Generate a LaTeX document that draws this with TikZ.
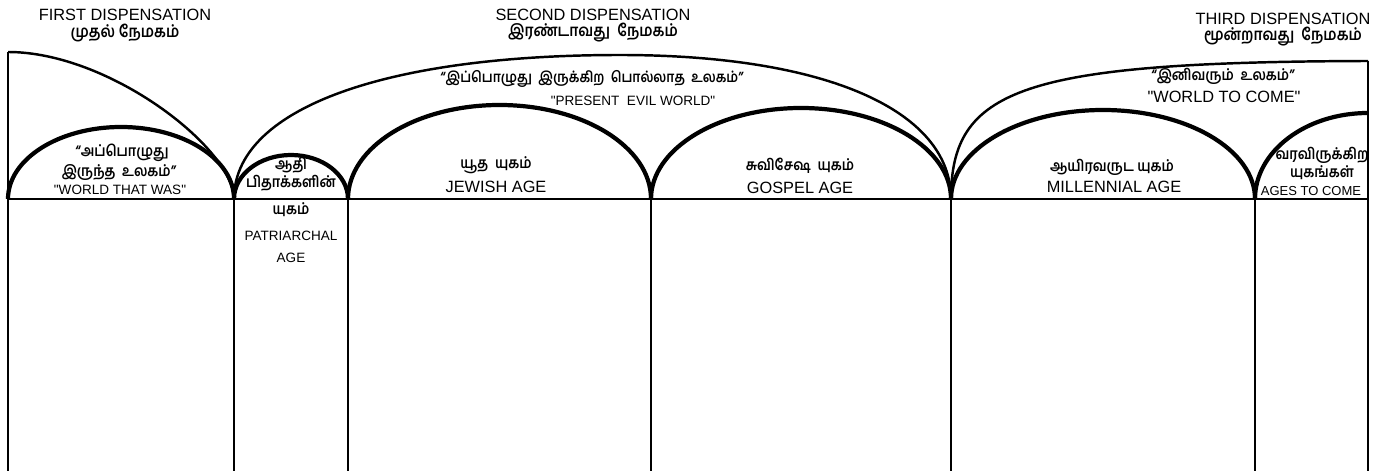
\documentclass[tikz,border=0pt]{standalone}
\usepackage{fontspec}
\setmainfont{Liberation Sans}[Ligatures=TeXOff]
\newfontfamily\tamil[Script=Tamil, FakeStretch=0.88]{Hind Madurai}
\usetikzlibrary{positioning}

\begin{document}
\begin{tikzpicture}[
    x=0.02cm, y=0.02cm,
    thinarc/.style={line width=1.4pt},
    thickarc/.style={line width=2.4pt},
    wall/.style={line width=1.3pt},
    entext/.style={font=\fontsize{9.3}{10}\selectfont, inner sep=0pt},
    ensmall/.style={font=\fontsize{7.7}{8.5}\selectfont, inner sep=0pt},
    tatext/.style={font=\fontsize{8.7}{10}\selectfont\tamil\bfseries, inner sep=0pt},
    tatitle/.style={font=\fontsize{9.4}{10}\selectfont\tamil\bfseries, inner sep=0pt}
  ]
  \useasboundingbox (0,-277) rectangle (1385,199);

  % division points on the ground line
  \coordinate (p0) at (8,0);
  \coordinate (p1) at (234,0);
  \coordinate (p2) at (348,0);
  \coordinate (p3) at (651,0);
  \coordinate (p4) at (951,0);
  \coordinate (p5) at (1255,0);
  \coordinate (p6) at (1368,0);
  \coordinate (top0) at (8,147);
  \coordinate (top2) at (620,144);
  \coordinate (top3) at (1368,138);

  % ground line and walls
  \draw[line width=1.6pt] (p0) -- (p6);
  \draw[wall] (top0) -- (8,-272);
  \draw[wall] (top3) -- (1368,-272);
  \foreach \p in {p1,p2,p3,p4,p5}
    \draw[wall] (\p) -- ++(0,-272);

  % dispensations
  \draw[thinarc] (top0) .. controls (110,147) and (234,50) .. (p1);
  \draw[thinarc] (p1) .. controls (234,89) and (381,144) .. (top2)
                      .. controls (825,144) and (951,89) .. (p4);
  \draw[thinarc] (p4) .. controls (951,110) and (1020,137) .. (top3);

  % ages
  \draw[thickarc] (p0) arc[start angle=180, end angle=0, x radius=113, y radius=72];
  \draw[thickarc] (p1) arc[start angle=180, end angle=0, x radius=57, y radius=44];
  \draw[thickarc] (p2) arc[start angle=180, end angle=0, x radius=151.5, y radius=94];
  \draw[thickarc] (p3) arc[start angle=180, end angle=0, x radius=150, y radius=91];
  \draw[thickarc] (p4) arc[start angle=180, end angle=0, x radius=152, y radius=89];
  \draw[thickarc] (p5) arc[start angle=180, end angle=90, x radius=113, y radius=86];

  % titles
  \node[entext] (first) at (125,184) {FIRST DISPENSATION};
  \node[tatitle] (firstta) at (125,166) {முதல் நேமகம்};
  \node[entext] (second) at (593,184) {SECOND DISPENSATION};
  \node[tatitle] (secondta) at (593,166) {இரண்டாவது\ \ நேமகம்};
  \node[entext] (third) at (1283,180) {THIRD DISPENSATION};
  \node[tatitle] (thirdta) at (1283,162) {மூன்றாவது\ \ நேமகம்};

  % worlds
  \node[tatext] (wasta1) at (122,46) {“அப்பொழுது};
  \node[tatext] (wasta2) at (119,26) {இருந்த\ \ உலகம்”};
  \node[ensmall] (was) at (120,9) {"WORLD THAT WAS"};
  \node[tatext, font=\fontsize{8.4}{10}\selectfont\tamil\bfseries] (evilta) at (592,120)
    {“இப்பொழுது\ \ இருக்கிற\ \ பொல்லாத\ \ உலகம்”};
  \node[ensmall] (evil) at (633,98) {"PRESENT\ \ EVIL WORLD"};
  \node[tatext] (cometa) at (1223,123) {“இனிவரும்\ \ உலகம்”};
  \node[entext] (come) at (1224,102) {"WORLD TO COME"};

  % ages
  \node[tatext] (patta1) at (291,34) {ஆதி};
  \node[tatext] (patta2) at (291,16) {பிதாக்களின்};
  \node[tatext] (patta3) at (291,-11) {யுகம்};
  \node[ensmall] (pat1) at (291,-37) {PATRIARCHAL};
  \node[ensmall] (pat2) at (291,-59) {AGE};
  \node[tatext] (jewta) at (496,34) {யூத\ \ யுகம்};
  \node[entext] (jew) at (496,12) {JEWISH AGE};
  \node[tatext] (gospta) at (800,33) {சுவிசேஷ\ \ யுகம்};
  \node[entext] (gosp) at (800,11) {GOSPEL AGE};
  \node[tatext] (millta) at (1112,32) {ஆயிரவருட யுகம்};
  \node[entext] (mill) at (1114,12) {MILLENNIAL AGE};
  \node[tatext] (agesta1) at (1322,44) {வரவிருக்கிற};
  \node[tatext] (agesta2) at (1322,26) {யுகங்கள்};
  \node[ensmall, font=\fontsize{7.4}{8}\selectfont] (ages) at (1311,8) {AGES TO COME};
\end{tikzpicture}
\end{document}
